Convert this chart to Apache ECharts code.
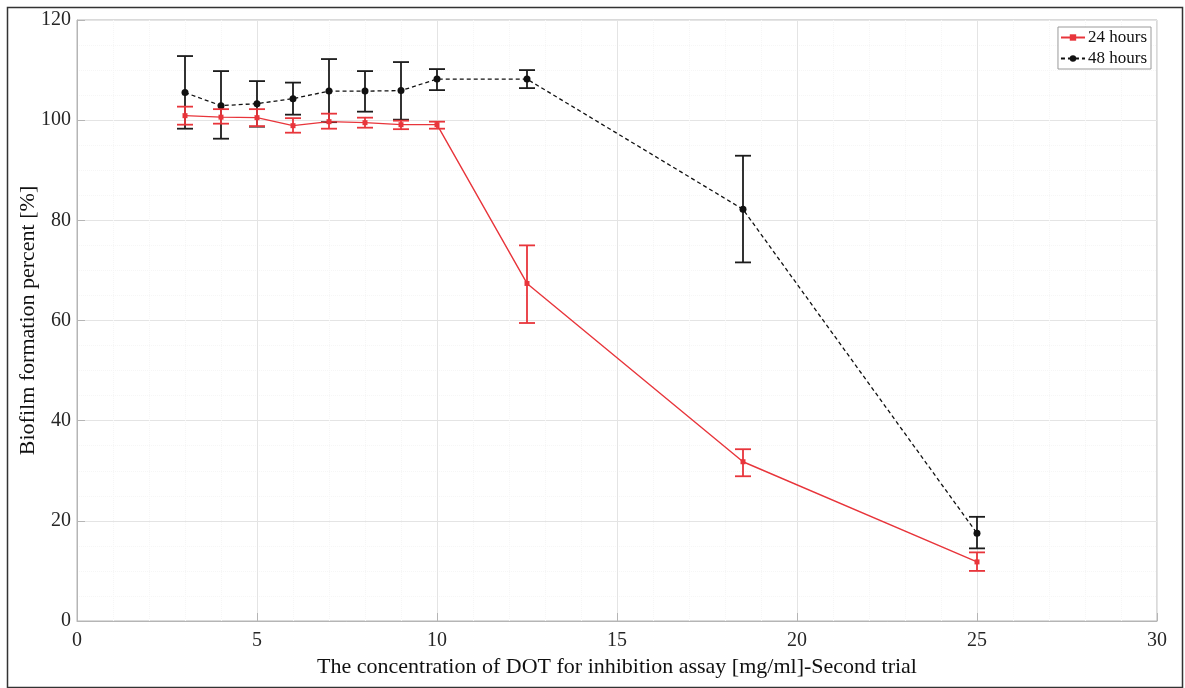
<!DOCTYPE html>
<html>
<head>
<meta charset="utf-8">
<script src="https://cdn.jsdelivr.net/npm/echarts@6/dist/echarts.min.js"></script>
<style>
  html, body { margin: 0; padding: 0; background: #ffffff; }
  #chart { width: 1185px; height: 688px; }
</style>
</head>
<body>
<div id="chart"></div>
<script>
// Concentration of DOT [mg/ml]
const concentrations = [3, 4, 5, 6, 7, 8, 9, 10, 12.5, 18.5, 25];

// 24 hours: mean and error bar limits [%]
const mean24 = [100.9, 100.6, 100.5, 98.9, 99.7, 99.5, 99.1, 99.1, 67.4, 31.8, 11.8];
const low24  = [99.1, 99.3, 98.8, 97.5, 98.3, 98.5, 98.2, 98.3, 59.5, 28.9, 10.0];
const high24 = [102.7, 102.2, 102.2, 100.4, 101.3, 100.5, 99.9, 99.7, 75.0, 34.3, 13.7];

// 48 hours: mean and error bar limits [%]
const mean48 = [105.5, 102.9, 103.3, 104.3, 105.8, 105.8, 105.9, 108.2, 108.2, 82.2, 17.5];
const low48  = [98.3, 96.3, 98.7, 101.1, 99.6, 101.7, 100.1, 106.0, 106.4, 71.6, 14.5];
const high48 = [112.8, 109.8, 107.8, 107.5, 112.2, 109.8, 111.6, 110.2, 110.0, 92.9, 20.8];

const seriesNames = ['24 hours', '48 hours'];

const RED = '#e8353b';
const BLACK = '#111111';
const FONT = '"Liberation Serif", "DejaVu Serif", serif';

const pts = (ys) => concentrations.map((x, i) => [x, ys[i]]);
const bars = (lo, hi) => concentrations.map((x, i) => [x, lo[i], hi[i]]);

function errorBarRenderer(color, width) {
  return function (params, api) {
    const x = api.value(0);
    const top = api.coord([x, api.value(2)]);
    const bot = api.coord([x, api.value(1)]);
    const half = 8;
    const style = { stroke: color, lineWidth: width, fill: null };
    return {
      type: 'group',
      children: [
        { type: 'line', shape: { x1: top[0], y1: top[1], x2: bot[0], y2: bot[1] }, style },
        { type: 'line', shape: { x1: top[0] - half, y1: top[1], x2: top[0] + half, y2: top[1] }, style },
        { type: 'line', shape: { x1: bot[0] - half, y1: bot[1], x2: bot[0] + half, y2: bot[1] }, style }
      ]
    };
  };
}

const chart = echarts.init(document.getElementById('chart'));

chart.setOption({
  backgroundColor: '#ffffff',
  animation: false,
  graphic: [{
    type: 'rect',
    left: 5, top: 5,
    shape: { width: 1175, height: 680 },
    style: { fill: null, stroke: '#333333', lineWidth: 1.5 },
    z: 100
  }],
  grid: { left: 77, right: 28, top: 20, bottom: 67, show: true, borderColor: '#b5b5b5', borderWidth: 1 },
  legend: {
    data: seriesNames,
    orient: 'vertical',
    right: 34, top: 27,
    itemGap: 4,
    itemWidth: 24, itemHeight: 8,
    padding: [2, 4, 2, 2],
    backgroundColor: '#ffffff',
    borderColor: '#9a9a9a',
    borderWidth: 1,
    textStyle: { fontFamily: FONT, fontSize: 17, color: '#111111', padding: [0, 0, 0, -2] }
  },
  xAxis: {
    type: 'value',
    min: 0, max: 30, interval: 5,
    name: 'The concentration of DOT for inhibition assay [mg/ml]-Second trial',
    nameLocation: 'middle',
    nameGap: 35,
    nameMoveOverlap: false,
    nameTextStyle: { fontFamily: FONT, fontSize: 22, color: '#111111' },
    axisLine: { show: true, lineStyle: { color: '#b5b5b5' } },
    axisTick: { show: true, inside: true, length: 8, lineStyle: { color: '#b5b5b5' } },
    axisLabel: { fontFamily: FONT, fontSize: 20, color: '#262626', margin: 10 },
    splitLine: { show: true, lineStyle: { color: '#e4e4e4', width: 1 } },
    minorTick: { show: false, splitNumber: 5 },
    minorSplitLine: { show: true, lineStyle: { color: '#f6f6f6', width: 1, type: 'dotted' } }
  },
  yAxis: {
    type: 'value',
    min: 0, max: 120, interval: 20,
    name: 'Biofilm formation percent [%]',
    nameLocation: 'middle',
    nameGap: 38,
    nameMoveOverlap: false,
    nameTextStyle: { fontFamily: FONT, fontSize: 22, color: '#111111' },
    axisLine: { show: true, lineStyle: { color: '#b5b5b5' } },
    axisTick: { show: true, inside: true, length: 8, lineStyle: { color: '#b5b5b5' } },
    axisLabel: { fontFamily: FONT, fontSize: 20, color: '#262626', margin: 6 },
    splitLine: { show: true, lineStyle: { color: '#e4e4e4', width: 1 } },
    minorTick: { show: false, splitNumber: 4 },
    minorSplitLine: { show: true, lineStyle: { color: '#f6f6f6', width: 1, type: 'dotted' } }
  },
  series: [
    {
      name: seriesNames[1] + ' error',
      type: 'custom',
      renderItem: errorBarRenderer('#1c1c1c', 1.8),
      data: bars(low48, high48),
      encode: { x: 0, y: [1, 2] },
      z: 2,
      silent: true
    },
    {
      name: seriesNames[1],
      type: 'line',
      data: pts(mean48),
      symbol: 'circle',
      symbolSize: 7,
      itemStyle: { color: BLACK },
      lineStyle: { color: BLACK, width: 1.3, type: [4, 3] },
      z: 3
    },
    {
      name: seriesNames[0] + ' error',
      type: 'custom',
      renderItem: errorBarRenderer(RED, 1.8),
      data: bars(low24, high24),
      encode: { x: 0, y: [1, 2] },
      z: 4,
      silent: true
    },
    {
      name: seriesNames[0],
      type: 'line',
      data: pts(mean24),
      symbol: 'rect',
      symbolSize: 5,
      itemStyle: { color: RED },
      lineStyle: { color: RED, width: 1.4 },
      z: 5
    }
  ]
});
</script>
</body>
</html>
